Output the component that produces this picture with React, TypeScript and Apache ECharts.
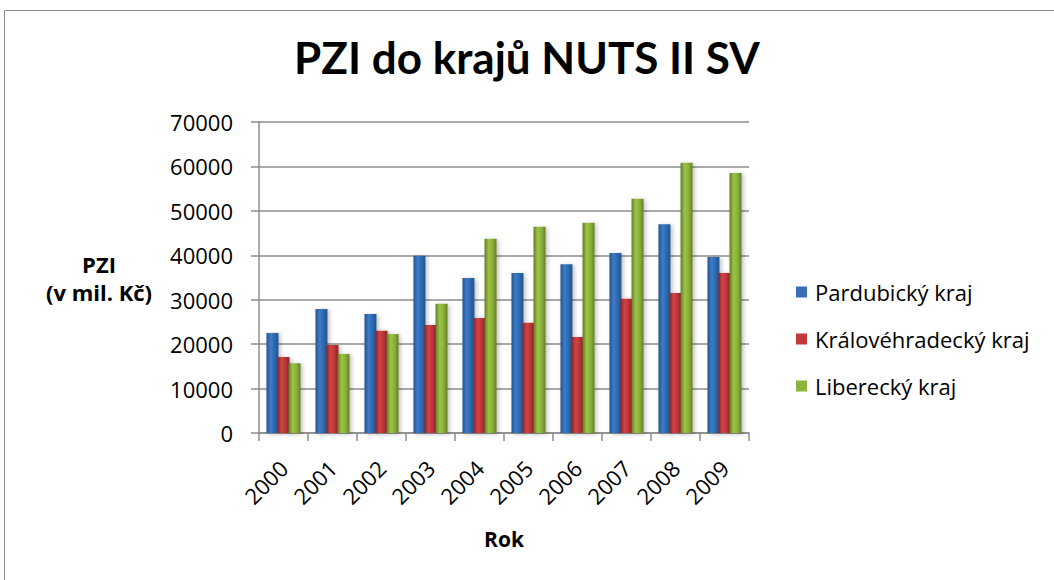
import React, { useEffect, useRef } from "react";
import * as echarts from "echarts";

const years = ["2000", "2001", "2002", "2003", "2004", "2005", "2006", "2007", "2008", "2009"];
const pardubicky = [22500, 27900, 26800, 39900, 34900, 36000, 38000, 40500, 47000, 39600];
const kralovehradecky = [17100, 19800, 23000, 24300, 25900, 24800, 21600, 30200, 31500, 36000];
const liberecky = [15700, 17800, 22300, 29100, 43700, 46400, 47300, 52700, 60800, 58500];
const seriesNames = ["Pardubický kraj", "Královéhradecký kraj", "Liberecký kraj"];

const TITLE_FONT = "Lato, 'Open Sans', sans-serif";
const FONT = "'Open Sans', Lato, sans-serif";

function grad(dark: string, mid: string, light: string) {
  return new echarts.graphic.LinearGradient(0, 0, 1, 0, [
    { offset: 0, color: dark },
    { offset: 0.35, color: light },
    { offset: 0.7, color: mid },
    { offset: 1, color: dark },
  ]);
}

export default function App() {
  const ref = useRef<HTMLDivElement>(null);
  useEffect(() => {
    if (!ref.current) return;
    const chart = echarts.init(ref.current, null, { renderer: "svg" });
    const colors = [
      grad("#24548e", "#2c65ab", "#3b7cc8"),
      grad("#8e2426", "#b83235", "#d04446"),
      grad("#627d25", "#88ad37", "#9cc448"),
    ];
    const legendColors = ["#3a6fb5", "#c0393b", "#8db33a"];
    const data = [pardubicky, kralovehradecky, liberecky];
    chart.setOption({
      animation: false,
      title: {
        text: "PZI do krajů NUTS II SV",
        left: "center",
        top: 30,
        textStyle: { fontFamily: TITLE_FONT, fontSize: 44, fontWeight: "bold", color: "#000" },
      },
      graphic: [
        {
          type: "rect",
          shape: { x: 4.5, y: 10.5, width: 1100, height: 700 },
          style: { fill: "none", stroke: "#8c8c8c", lineWidth: 1 },
          silent: true,
        },
      ],
      legend: {
        orient: "vertical",
        left: 791,
        top: 275,
        itemGap: 23,
        itemWidth: 11,
        itemHeight: 11,
        icon: "rect",
        textStyle: { fontFamily: FONT, fontSize: 22, lineHeight: 24, color: "#000", padding: [0, 0, 0, 3] },
        data: seriesNames.map((n, i) => ({ name: n, itemStyle: { color: legendColors[i] } })),
      },
      grid: { left: 259, right: 305, top: 122, bottom: 147 },
      xAxis: {
        type: "category",
        data: years,
        name: "Rok",
        nameLocation: "middle",
        nameGap: 95,
        nameTextStyle: { fontFamily: FONT, fontSize: 21, fontWeight: "bold", color: "#000" },
        axisLine: { lineStyle: { color: "#8c8c8c", width: 1.5 } },
        axisTick: { show: true, length: 8, lineStyle: { color: "#8c8c8c", width: 1.5 } },
        axisLabel: { rotate: 45, fontFamily: FONT, fontSize: 22, color: "#000", margin: 31 },
      },
      yAxis: {
        type: "value",
        min: 0,
        max: 70000,
        interval: 10000,
        name: "PZI\n(v mil. Kč)",
        nameLocation: "middle",
        nameRotate: 0,
        nameGap: 160,
        nameTextStyle: { fontFamily: FONT, fontSize: 22, fontWeight: "bold", color: "#000", lineHeight: 28, align: "center" },
        axisLine: { show: true, lineStyle: { color: "#8c8c8c", width: 1.5 } },
        axisTick: { show: true, length: 8, lineStyle: { color: "#8c8c8c", width: 1.5 } },
        axisLabel: { fontFamily: FONT, fontSize: 22, color: "#000", margin: 26, formatter: (v: number) => String(v) },
        splitLine: { lineStyle: { color: "#8c8c8c", width: 1.5 } },
      },
      series: data.map((d, i) => ({
        name: seriesNames[i],
        type: "bar",
        data: d,
        barWidth: 12,
        barGap: "-8%",
        itemStyle: { color: colors[i], shadowColor: "rgba(0,0,0,0.25)", shadowBlur: 4, shadowOffsetX: 2, shadowOffsetY: 1 },
      })),
    });
    return () => chart.dispose();
  }, []);
  return <div ref={ref} style={{ position: "absolute", left: 0, top: 0, width: 1054, height: 580 }} />;
}
